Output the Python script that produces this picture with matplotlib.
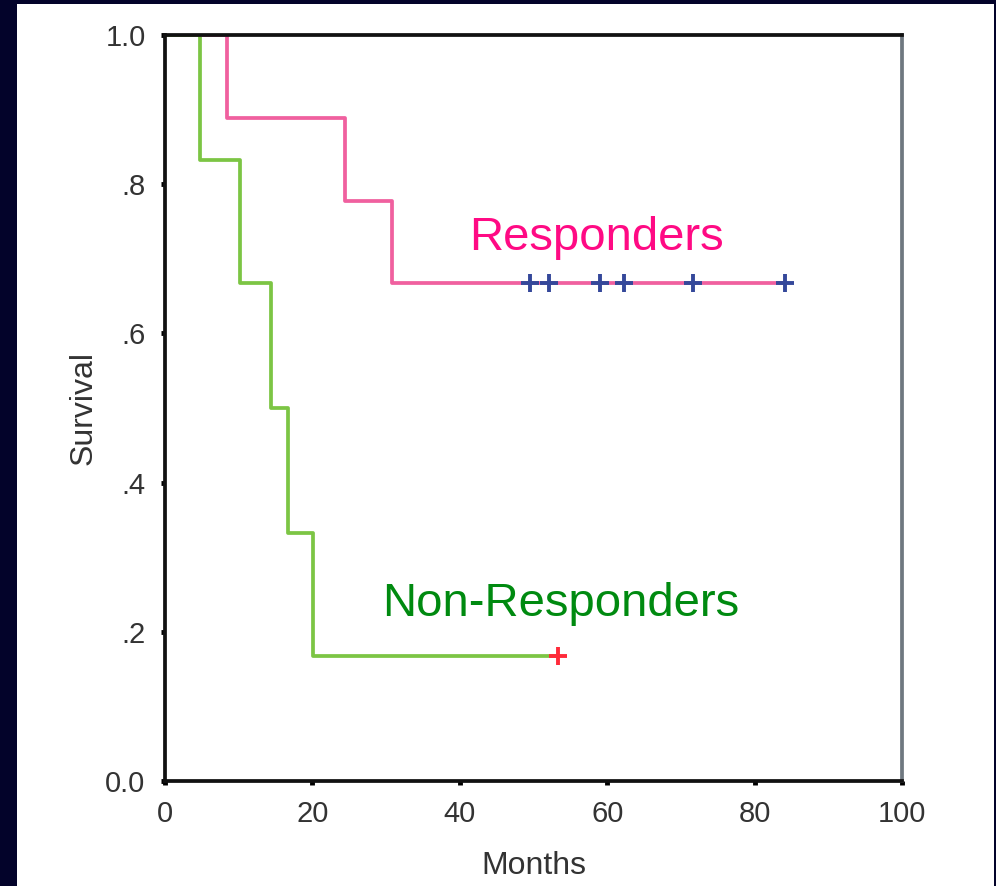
import matplotlib.pyplot as plt
from matplotlib.patches import Rectangle

plt.rcParams['font.family'] = ['Liberation Sans', 'DejaVu Sans']

# Kaplan-Meier step data (months, survival)
resp_times = [0, 8.4, 24.4, 30.8, 84.1]
resp_surv = [1.0, 0.889, 0.778, 0.667, 0.667]
resp_censored = [49.5, 52.1, 59.0, 62.3, 71.6, 84.1]

nonresp_times = [0, 4.7, 10.2, 14.4, 16.7, 20.1, 53.3]
nonresp_surv = [1.0, 0.833, 0.667, 0.5, 0.333, 0.167, 0.167]
nonresp_censored = [53.3]

x_ticks = [0, 20, 40, 60, 80, 100]
y_ticks = [0.0, 0.2, 0.4, 0.6, 0.8, 1.0]
y_tick_labels = ['0.0', '.2', '.4', '.6', '.8', '1.0']

fig = plt.figure(figsize=(9.96, 8.86), dpi=100, facecolor='#03032a')
fig.add_artist(Rectangle((17 / 996, 0), (994 - 17) / 996, (886 - 4) / 886,
                         transform=fig.transFigure, facecolor='white',
                         edgecolor='none', zorder=-10))

ax = fig.add_axes([165 / 996, 1 - 781 / 886, (902 - 165) / 996, (781 - 35) / 886])
ax.set_facecolor('white')

ax.step(resp_times, resp_surv, where='post', color='#f0609f', linewidth=2.7)
ax.step(nonresp_times, nonresp_surv, where='post', color='#7cc544', linewidth=2.7)

ax.plot(resp_censored, [resp_surv[-1]] * len(resp_censored), linestyle='none',
        marker='+', markersize=13, markeredgewidth=2.8, color='#34489a')
ax.plot(nonresp_censored, [nonresp_surv[-1]] * len(nonresp_censored), linestyle='none',
        marker='+', markersize=13, markeredgewidth=2.8, color='#ff2a3a')

ax.text(58.6, 0.728, 'Responders', color='#ff0a84', fontsize=34,
        ha='center', va='center')
ax.text(53.7, 0.237, 'Non-Responders', color='#008a10', fontsize=34,
        ha='center', va='center')

ax.set_xlim(0, 100)
ax.set_ylim(0, 1)
ax.set_xticks(x_ticks)
ax.set_yticks(y_ticks)
ax.set_yticklabels(y_tick_labels)
ax.tick_params(direction='out', length=3, width=3.5, color='black',
               labelsize=21, labelcolor='#333333', pad=11)

for side in ['left', 'bottom', 'top']:
    ax.spines[side].set_color('#111111')
    ax.spines[side].set_linewidth(2.7)
ax.spines['right'].set_color('#6f7880')
ax.spines['right'].set_linewidth(2.7)

ax.set_xlabel('Months', fontsize=23, color='#333333', labelpad=16)
ax.set_ylabel('Survival', fontsize=23, color='#333333', labelpad=5)

fig.savefig('out.png', dpi=100, facecolor=fig.get_facecolor())
